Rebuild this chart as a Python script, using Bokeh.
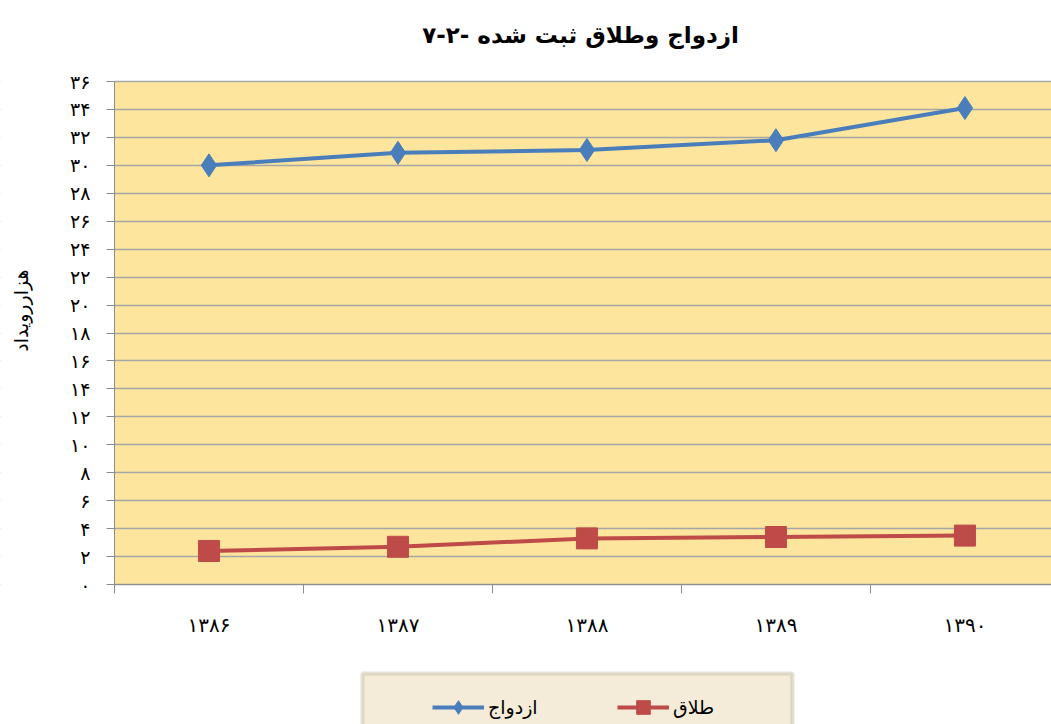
import math
from bokeh.plotting import figure
from bokeh.models import FixedTicker, Legend, LegendItem, Range1d, BoxAnnotation, Label
from bokeh.embed import file_html
from bokeh.resources import INLINE

# ---- data ----
years = ["۱۳۸۶", "۱۳۸۷", "۱۳۸۸", "۱۳۸۹", "۱۳۹۰"]
x_pos = [0, 1, 2, 3, 4]
marriage = [30.0, 30.9, 31.1, 31.8, 34.1]
divorce = [2.4, 2.7, 3.3, 3.4, 3.5]
series_names = ["ازدواج", "طلاق"]
y_ticks = [0, 2, 4, 6, 8, 10, 12, 14, 16, 18, 20, 22, 24, 26, 28, 30, 32, 34, 36]
y_tick_labels = ["۰", "۲", "۴", "۶", "۸", "۱۰", "۱۲", "۱۴", "۱۶", "۱۸",
                 "۲۰", "۲۲", "۲۴", "۲۶", "۲۸", "۳۰", "۳۲", "۳۴", "۳۶"]
title_text = "ازدواج وطلاق ثبت شده -۲-۷"
y_label = "هزاررویداد"

FONT = "DejaVu Sans"
BLUE = "#4a7ebb"
RED = "#be4b48"
Y_MIN, Y_MAX = y_ticks[0], y_ticks[-1]
X_LEFT, X_RIGHT = -0.5, 4.5

# the frame spans the whole canvas; the plot area is the band x>=-0.5, 0<=y<=36
p = figure(width=1051, height=724, output_backend="svg", toolbar_location=None,
           x_range=Range1d(-1.103, 4.458), y_range=Range1d(-10.02, 41.8),
           min_border_left=0, min_border_right=0, min_border_top=0,
           min_border_bottom=0)

p.background_fill_color = "white"
p.border_fill_color = "white"
p.outline_line_color = None

plot_area = BoxAnnotation(left=X_LEFT, bottom=Y_MIN, top=Y_MAX, fill_color="#fde59e",
                          fill_alpha=1.0, line_color=None, level="image")
p.add_layout(plot_area)

# grid
p.xgrid.visible = False
p.ygrid.ticker = FixedTicker(ticks=y_ticks)
p.ygrid.grid_line_color = "#a6a6a6"
p.ygrid.grid_line_width = 1.5

# white cover for the grid lines left of the plot area (below the axes)
grid_cover = BoxAnnotation(right=X_LEFT, fill_color="white", fill_alpha=1.0,
                           line_color=None, level="underlay")
p.add_layout(grid_cover)

# title
title = Label(x=1.966, y=39.3, text=title_text, text_align="center",
              text_baseline="middle", text_font=FONT, text_font_size="23px",
              text_font_style="bold", text_color="black")
p.add_layout(title)

# y axis label
ylab = Label(x=-0.997, y=19.6, text=y_label, angle=math.pi / 2,
             text_align="center", text_baseline="middle", text_font=FONT,
             text_font_size="19px", text_color="black")
p.add_layout(ylab)

# x axis
xa = p.xaxis[0]
xa.fixed_location = Y_MIN
xa.bounds = (X_LEFT, X_RIGHT)
xa.ticker = FixedTicker(ticks=x_pos, minor_ticks=[-0.5, 0.5, 1.5, 2.5, 3.5, 4.5])
xa.major_label_overrides = {x: lab for x, lab in zip(x_pos, years)}
xa.major_tick_line_color = None
xa.major_tick_out = 0
xa.major_tick_in = 0
xa.minor_tick_out = 9
xa.minor_tick_in = 0
xa.minor_tick_line_color = "#8c8c8c"
xa.axis_line_color = "#8c8c8c"
xa.major_label_standoff = 19
xa.major_label_text_font = FONT
xa.major_label_text_font_size = "20px"
xa.major_label_text_color = "black"

# y axis
ya = p.yaxis[0]
ya.fixed_location = X_LEFT
ya.bounds = (Y_MIN, Y_MAX)
ya.ticker = FixedTicker(ticks=y_ticks)
ya.major_label_overrides = {t: lab for t, lab in zip(y_ticks, y_tick_labels)}
ya.minor_tick_line_color = None
ya.major_tick_out = 8
ya.major_tick_in = 0
ya.major_tick_line_color = "#8c8c8c"
ya.axis_line_color = "#8c8c8c"
ya.major_label_standoff = 16
ya.major_label_text_font = FONT
ya.major_label_text_font_size = "19px"
ya.major_label_text_color = "black"

# series
l1 = p.line(x_pos, marriage, line_color=BLUE, line_width=4)
s1 = p.scatter(x_pos, marriage, marker="diamond", size=23, fill_color=BLUE, line_color=BLUE)
l2 = p.line(x_pos, divorce, line_color=RED, line_width=4)
s2 = p.scatter(x_pos, divorce, marker="square", size=21, fill_color=RED, line_color=RED)

# legend box + legend
legend_box = BoxAnnotation(left=0.812, right=3.087, top=-6.37, bottom=-11,
                           fill_color="#f4ecd8", fill_alpha=1.0,
                           line_color="#a39a85", line_width=4)
p.add_layout(legend_box)

legend = Legend(items=[LegendItem(label=series_names[0], renderers=[l1, s1]),
                       LegendItem(label=series_names[1], renderers=[l2, s2])],
                orientation="horizontal", location=(432, 0),
                background_fill_alpha=0, border_line_color=None,
                padding=4, spacing=27, label_width=102, label_standoff=4,
                glyph_width=52, glyph_height=34,
                label_text_font=FONT, label_text_font_size="19px",
                label_text_color="black")
p.add_layout(legend, "center")

open("out.html", "w").write(file_html(p, INLINE))
